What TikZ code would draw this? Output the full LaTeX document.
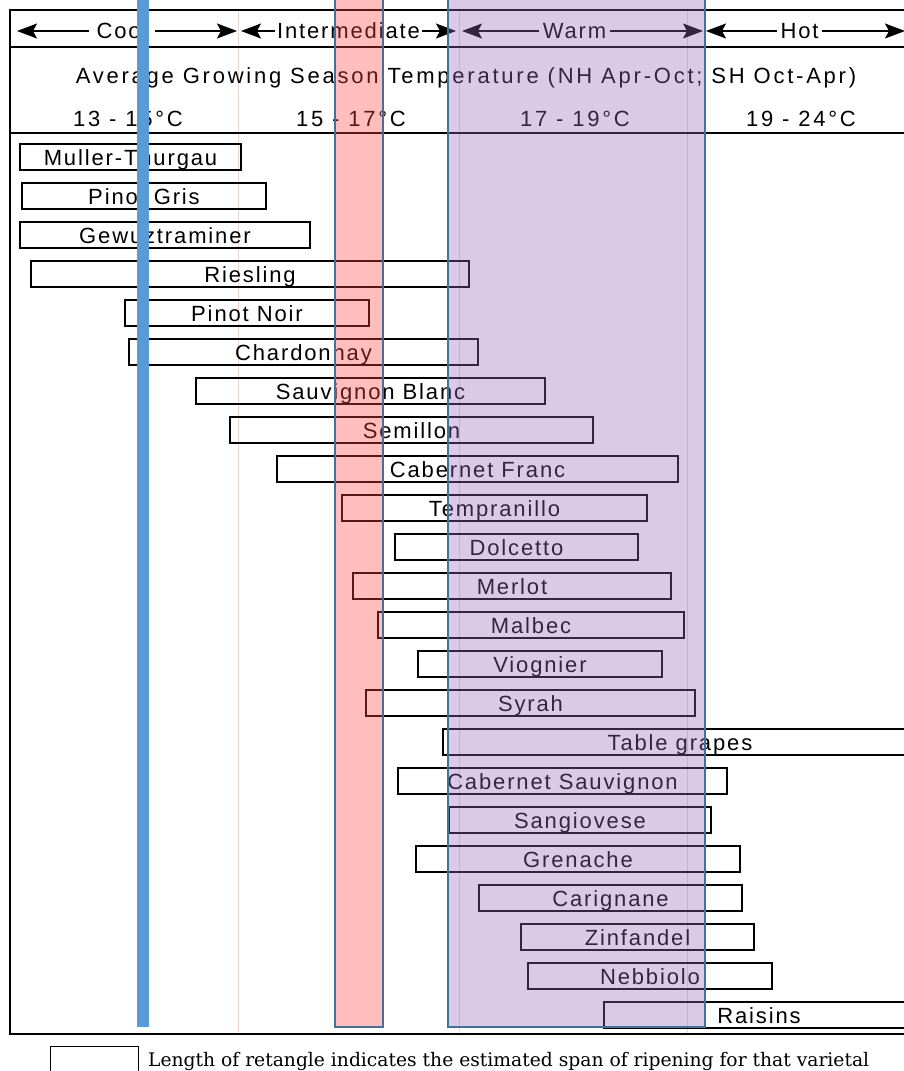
\documentclass[tikz,border=0pt]{standalone}
\usepackage{fontspec}
\setmainfont{Liberation Sans}
\newfontfamily\legfont{DejaVu Serif}
\usetikzlibrary{arrows.meta, positioning}
\definecolor{bandblue}{HTML}{41719C}
\definecolor{barblue}{HTML}{5B9BD5}
\definecolor{coolred}{RGB}{255,66,66}
\definecolor{warmlilac}{RGB}{149,104,184}
\definecolor{gridtan}{RGB}{232,214,204}
\newcommand\grapefont{\fontsize{22}{25}\selectfont\addfontfeature{LetterSpace=8.5}}
\newcommand\headfont{\fontsize{22}{25}\selectfont\addfontfeature{LetterSpace=12.6}}

\begin{document}
\begin{tikzpicture}[x=1pt, y=-1pt,
  vrt/.style = {draw, line width=1.4pt, minimum height=26pt, inner sep=0pt, text height=16pt, text depth=0pt, font=\grapefont},
  zone/.style = {draw, line width=1.2pt, {Stealth[length=20pt, width=15pt, inset=4pt]}-{Stealth[length=20pt, width=15pt, inset=4pt]}},
  zlbl/.style = {fill=white, inner xsep=8pt, inner ysep=1pt, font=\grapefont},
  band/.style = {draw=bandblue, line width=2pt, fill opacity=.35}]
\useasboundingbox (0,0) rectangle (904,1071);
\foreach \x in {238, 459, 687}{
\draw[gridtan, line width=1pt] (\x,10) -- (\x,1034);
}
\draw[line width=1.5pt] (10,10) rectangle (930,1034);
\draw[line width=1.5pt] (10,47) -- (930,47);
\draw[line width=1.5pt] (10,133) -- (930,133);
\coordinate (z0) at (17,31);
\coordinate (z1) at (237,31);
\coordinate (z2) at (241,31);
\coordinate (z3) at (456,31);
\coordinate (z4) at (462,31);
\coordinate (z5) at (703,31);
\coordinate (z6) at (706,31);
\coordinate (z7) at (905,31);
\draw[zone] (z0) -- (z1) node[zlbl, midway, xshift=-5pt] (cool) {Cool};
\draw[zone] (z2) -- (z3) node[zlbl, midway, inner xsep=2pt] (inter) {Intermediate};
\draw[zone] (z4) -- (z5) node[zlbl, midway, xshift=-8pt, inner xsep=4pt] (warm) {Warm};
\draw[zone] (z6) -- (z7) node[zlbl, midway, xshift=-6pt, inner xsep=4pt] (hot) {Hot};
\node[font=\headfont] (title) at (466,78) {Average Growing Season Temperature (NH Apr-Oct; SH Oct-Apr)};
\foreach \x/\t [count=\i] in {128/13 - 15°C, 351/15 - 17°C, 575/17 - 19°C, 801/19 - 24°C}{
\node[font=\headfont] (t\i) at (\x,119) {\t};
}
\foreach \l/\r/\t [count=\i] in {
20/241/Muller-Thurgau, 22/266/Pinot Gris, 20/310/Gewuztraminer, 31/469/Riesling,
125/369/Pinot Noir, 129/478/Chardonnay, 196/545/Sauvignon Blanc, 230/593/Semillon,
277/678/Cabernet Franc, 342/647/Tempranillo, 395/638/Dolcetto, 353/671/Merlot,
378/684/Malbec, 418/662/Viognier, 366/695/Syrah, 443/917/Table grapes,
398/727/Cabernet Sauvignon, 449/711/Sangiovese, 416/740/Grenache, 479/742/Carignane,
521/754/Zinfandel, 528/772/Nebbiolo, 604/914/Raisins}{
\node[vrt, minimum width={(\r-\l)*1pt}] (v\i) at ({(\l+\r)/2},{157+39*(\i-1)}) {\t};
}
\fill[barblue] (137,-5) rectangle (149,1027);
\path[band, fill=coolred] (335,-5) rectangle (383,1027);
\path[band, fill=warmlilac] (448,-5) rectangle (705,1027);
\node[draw, line width=1.3pt, minimum width=88pt, minimum height=40pt, anchor=north west] (legbox) at (50,1046) {};
\node[anchor=base west, inner sep=0pt, font=\legfont\fontsize{18.7}{20}\selectfont] (legtext) at (148,1066) {Length of retangle indicates the estimated span of ripening for that varietal};
\end{tikzpicture}
\end{document}
